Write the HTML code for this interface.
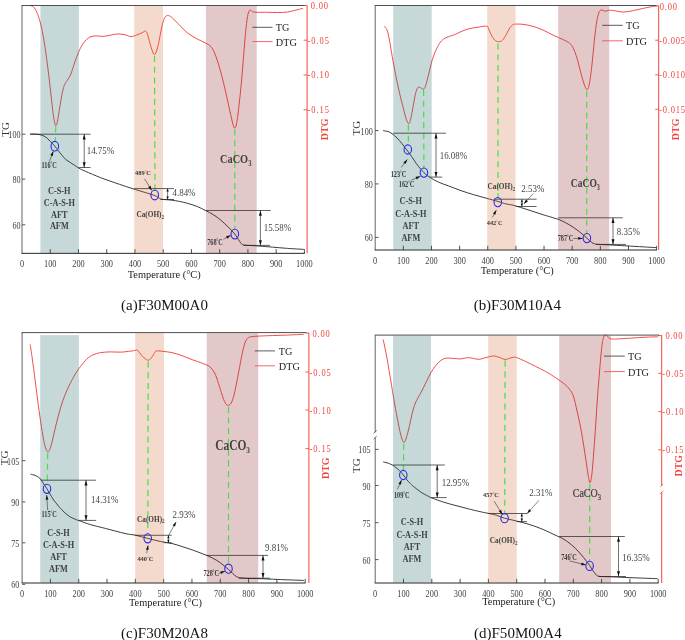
<!DOCTYPE html>
<html lang="en">
<head>
<meta charset="utf-8">
<title>TG-DTG curves</title>
<style>
html,body{margin:0;padding:0;background:#fff;}
body{width:685px;height:640px;overflow:hidden;}
svg{display:block;font-family:"Liberation Serif","Noto Serif CJK SC",serif;}
</style>
</head>
<body>
<svg width="685" height="640" viewBox="0 0 685 640">
<rect x="0" y="0" width="685" height="640" fill="#ffffff"/>
<path d="M29.63 5.52C30.05 5.61 31.22 5.44 32.14 6.03C33.06 6.61 34.15 7.45 35.15 9.04C36.16 10.63 37.2 12.89 38.17 15.57C39.13 18.25 39.97 21.01 40.93 25.11C41.89 29.21 42.9 33.9 43.94 40.18C44.99 46.45 46.16 54.82 47.21 62.77C48.25 70.73 49.3 79.93 50.22 87.88C51.14 95.83 52.02 104.83 52.73 110.48C53.44 116.13 53.99 119.27 54.49 121.78C54.99 124.29 55.28 125.46 55.74 125.55C56.2 125.63 56.66 124.79 57.25 122.28C57.84 119.77 58.51 114.96 59.26 110.48C60.01 106 60.93 99.6 61.77 95.42C62.61 91.23 63.36 87.88 64.28 85.37C65.2 82.86 66.21 82.23 67.29 80.35C68.38 78.47 69.6 77 70.81 74.07C72.02 71.14 73.32 66.33 74.58 62.77C75.83 59.22 77.04 55.74 78.34 52.73C79.64 49.72 80.98 46.91 82.36 44.69C83.74 42.48 85.2 40.76 86.63 39.42C88.05 38.08 89.22 37.25 90.9 36.66C92.57 36.07 94.66 35.95 96.67 35.91C98.68 35.86 100.65 36.53 102.95 36.41C105.25 36.28 107.97 35.57 110.48 35.15C112.99 34.73 115.5 33.94 118.01 33.9C120.53 33.86 123.37 34.44 125.55 34.9C127.72 35.36 129.19 36.66 131.07 36.66C132.95 36.66 135.05 35.53 136.85 34.9C138.65 34.27 140.49 33.52 141.87 32.89C143.25 32.27 144.25 31.09 145.13 31.14C146.01 31.18 146.47 31.64 147.14 33.14C147.81 34.65 148.4 37.54 149.15 40.18C149.9 42.81 150.78 46.54 151.66 48.96C152.54 51.39 153.5 54.74 154.42 54.74C155.34 54.74 156.31 51.81 157.19 48.96C158.06 46.12 158.86 41.64 159.7 37.66C160.53 33.69 161.37 28.46 162.21 25.11C163.04 21.76 163.88 19.17 164.72 17.58C165.56 15.99 166.39 15.82 167.23 15.57C168.07 15.32 168.95 15.74 169.74 16.07C170.54 16.4 170.37 16.07 172 17.58C173.63 19.08 177.02 22.6 179.53 25.11C182.04 27.62 184.14 30.34 187.07 32.64C190 34.94 193.97 37.16 197.11 38.92C200.25 40.68 203.6 41.89 205.9 43.19C208.2 44.49 209.45 45.03 210.92 46.7C212.38 48.38 213.22 49.63 214.69 53.23C216.15 56.83 218.03 62.52 219.71 68.3C221.38 74.07 223.06 80.85 224.73 87.88C226.4 94.91 228.41 104.54 229.75 110.48C231.09 116.42 231.93 120.61 232.76 123.54C233.6 126.47 234.1 128.23 234.77 128.06C235.44 127.89 236.03 126.72 236.78 122.53C237.54 118.35 238.46 110.4 239.29 102.95C240.13 95.5 241.01 86.63 241.8 77.84C242.6 69.05 243.35 58.59 244.06 50.22C244.78 41.85 245.4 33.69 246.07 27.62C246.74 21.55 247.37 16.74 248.08 13.81C248.79 10.88 249.55 10.38 250.34 10.04C251.14 9.71 251.68 11.42 252.85 11.8C254.02 12.18 254.95 12.22 257.37 12.3C259.8 12.39 264.07 12.26 267.42 12.3C270.76 12.35 274.11 12.6 277.46 12.55C280.81 12.51 284.57 12.43 287.5 12.05C290.43 11.68 292.44 10.92 295.04 10.29C297.63 9.67 301.73 8.62 303.07 8.29" fill="none" stroke="#f0453f" stroke-width="0.95" stroke-linejoin="round"/>
<path d="M30.13 134.08C31.18 134.11 34.53 134.04 36.41 134.21C38.29 134.38 39.76 134.52 41.43 135.09C43.1 135.65 44.78 136.34 46.45 137.6C48.13 138.86 50.09 141.2 51.47 142.62C52.86 144.04 53.61 144.8 54.74 146.14C55.87 147.48 57 149.07 58.25 150.66C59.51 152.25 61.02 154.21 62.27 155.68C63.53 157.15 64.45 158.36 65.79 159.5C67.13 160.64 68.84 161.55 70.31 162.51C71.77 163.47 73.11 164.31 74.58 165.27C76.04 166.24 77.3 167.28 79.09 168.29C80.89 169.29 81.82 169.75 85.37 171.3C88.93 172.85 95.83 175.78 100.44 177.58C105.04 179.38 108.81 180.63 112.99 182.1C117.18 183.56 121.78 185.11 125.55 186.36C129.31 187.62 132.24 188.58 135.59 189.63C138.94 190.68 142.41 191.64 145.64 192.64C148.86 193.65 152.41 194.61 154.93 195.66C157.44 196.7 158.9 198.25 160.7 198.92C162.5 199.59 163.84 199.46 165.72 199.67C167.61 199.88 169.7 199.88 172 200.18C174.3 200.47 177.02 200.93 179.53 201.43C182.04 201.93 184.14 202.35 187.07 203.19C190 204.03 193.97 205.2 197.11 206.45C200.25 207.71 203.18 209.34 205.9 210.72C208.62 212.1 210.92 213.15 213.43 214.74C215.94 216.33 218.45 218.17 220.96 220.26C223.47 222.36 226.19 224.99 228.5 227.29C230.8 229.6 232.97 231.81 234.77 234.07C236.57 236.33 238.12 239.18 239.29 240.85C240.47 242.53 240.88 243.41 241.8 244.12C242.73 244.83 243.06 244.87 244.82 245.12C246.58 245.37 249.84 245.46 252.35 245.62C254.86 245.79 256.54 245.87 259.88 246.13C263.23 246.38 267.83 246.75 272.44 247.13C277.04 247.51 282.27 248.01 287.5 248.39C292.73 248.76 301.1 249.22 303.82 249.39" fill="none" stroke="#262626" stroke-width="0.9" stroke-linejoin="round"/>
<line x1="50.24" y1="253.35" x2="50.24" y2="249.15" stroke="#3a3a3a" stroke-width="0.9" />
<line x1="78.48" y1="253.35" x2="78.48" y2="249.15" stroke="#3a3a3a" stroke-width="0.9" />
<line x1="106.72" y1="253.35" x2="106.72" y2="249.15" stroke="#3a3a3a" stroke-width="0.9" />
<line x1="134.96" y1="253.35" x2="134.96" y2="249.15" stroke="#3a3a3a" stroke-width="0.9" />
<line x1="163.2" y1="253.35" x2="163.2" y2="249.15" stroke="#3a3a3a" stroke-width="0.9" />
<line x1="191.44" y1="253.35" x2="191.44" y2="249.15" stroke="#3a3a3a" stroke-width="0.9" />
<line x1="219.68" y1="253.35" x2="219.68" y2="249.15" stroke="#3a3a3a" stroke-width="0.9" />
<line x1="247.92" y1="253.35" x2="247.92" y2="249.15" stroke="#3a3a3a" stroke-width="0.9" />
<line x1="276.16" y1="253.35" x2="276.16" y2="249.15" stroke="#3a3a3a" stroke-width="0.9" />
<line x1="304.4" y1="253.35" x2="304.4" y2="249.15" stroke="#3a3a3a" stroke-width="0.9" />
<line x1="22" y1="134.2" x2="25.3" y2="134.2" stroke="#3a3a3a" stroke-width="0.85" />
<line x1="22" y1="179.1" x2="25.3" y2="179.1" stroke="#3a3a3a" stroke-width="0.85" />
<line x1="22" y1="224.8" x2="25.3" y2="224.8" stroke="#3a3a3a" stroke-width="0.85" />
<line x1="303.6" y1="5.5" x2="307.1" y2="5.5" stroke="#f0453f" stroke-width="0.85" />
<line x1="303.6" y1="40.2" x2="307.1" y2="40.2" stroke="#f0453f" stroke-width="0.85" />
<line x1="303.6" y1="74.9" x2="307.1" y2="74.9" stroke="#f0453f" stroke-width="0.85" />
<line x1="303.6" y1="109.8" x2="307.1" y2="109.8" stroke="#f0453f" stroke-width="0.85" />
<rect x="40.4" y="6" width="38.5" height="246.95" fill="rgba(27,103,99,0.25)"/>
<rect x="134.2" y="6" width="28.8" height="246.95" fill="rgba(207,107,55,0.25)"/>
<rect x="205.9" y="6" width="50.8" height="246.95" fill="rgba(143,35,43,0.25)"/>
<line x1="55.8" y1="126.5" x2="55.2" y2="142" stroke="#44e044" stroke-width="1.2" stroke-dasharray="6.1 4.6"/>
<line x1="154.5" y1="56" x2="155" y2="191" stroke="#44e044" stroke-width="1.2" stroke-dasharray="6.1 4.6"/>
<line x1="234.8" y1="129.5" x2="234.8" y2="229" stroke="#44e044" stroke-width="1.2" stroke-dasharray="6.1 4.6"/>
<line x1="22" y1="5.5" x2="22" y2="253.35" stroke="#484848" stroke-width="0.85" />
<line x1="21.6" y1="5.5" x2="304.6" y2="5.5" stroke="#3a3a3a" stroke-width="0.9" />
<line x1="21.5" y1="253.35" x2="304.8" y2="253.35" stroke="#262626" stroke-width="1" />
<line x1="307.1" y1="5.5" x2="307.1" y2="253.35" stroke="#f0453f" stroke-width="1" />
<text x="0" y="0" font-size="9.9" fill="#424242" text-anchor="middle" transform="translate(22 267) scale(0.84 1)" >0</text>
<text x="0" y="0" font-size="9.9" fill="#424242" text-anchor="middle" transform="translate(50.24 267) scale(0.84 1)" >100</text>
<text x="0" y="0" font-size="9.9" fill="#424242" text-anchor="middle" transform="translate(78.48 267) scale(0.84 1)" >200</text>
<text x="0" y="0" font-size="9.9" fill="#424242" text-anchor="middle" transform="translate(106.72 267) scale(0.84 1)" >300</text>
<text x="0" y="0" font-size="9.9" fill="#424242" text-anchor="middle" transform="translate(134.96 267) scale(0.84 1)" >400</text>
<text x="0" y="0" font-size="9.9" fill="#424242" text-anchor="middle" transform="translate(163.2 267) scale(0.84 1)" >500</text>
<text x="0" y="0" font-size="9.9" fill="#424242" text-anchor="middle" transform="translate(191.44 267) scale(0.84 1)" >600</text>
<text x="0" y="0" font-size="9.9" fill="#424242" text-anchor="middle" transform="translate(219.68 267) scale(0.84 1)" >700</text>
<text x="0" y="0" font-size="9.9" fill="#424242" text-anchor="middle" transform="translate(247.92 267) scale(0.84 1)" >800</text>
<text x="0" y="0" font-size="9.9" fill="#424242" text-anchor="middle" transform="translate(276.16 267) scale(0.84 1)" >900</text>
<text x="0" y="0" font-size="9.9" fill="#424242" text-anchor="middle" transform="translate(304.4 267) scale(0.84 1)" >1000</text>
<text x="0" y="0" font-size="11.2" fill="#1c1c1c" text-anchor="middle" transform="translate(164.2 278.1) scale(0.93 1)" >Temperature (°C)</text>
<text x="0" y="0" font-size="9.9" fill="#424242" text-anchor="end" transform="translate(20.5 138.2) scale(0.82 1)" >100</text>
<text x="0" y="0" font-size="9.9" fill="#424242" text-anchor="end" transform="translate(20.5 183.1) scale(0.82 1)" >80</text>
<text x="0" y="0" font-size="9.9" fill="#424242" text-anchor="end" transform="translate(20.5 228.8) scale(0.82 1)" >60</text>
<text x="0" y="0" font-size="11" fill="#333" text-anchor="middle" transform="translate(9.3 129.3) rotate(-90)" >TG</text>
<text x="0" y="0" font-size="9.4" fill="#f0453f" text-anchor="start" transform="translate(310.8 9) scale(0.9 1)" textLength="19.02" lengthAdjust="spacing" >0.00</text>
<text x="0" y="0" font-size="9.4" fill="#f0453f" text-anchor="start" transform="translate(307.6 43.7) scale(0.9 1)" textLength="23.78" lengthAdjust="spacing" >-0.05</text>
<text x="0" y="0" font-size="9.4" fill="#f0453f" text-anchor="start" transform="translate(307.6 78.4) scale(0.9 1)" textLength="23.78" lengthAdjust="spacing" >-0.10</text>
<text x="0" y="0" font-size="9.4" fill="#f0453f" text-anchor="start" transform="translate(307.6 113.3) scale(0.9 1)" textLength="23.78" lengthAdjust="spacing" >-0.15</text>
<text x="0" y="0" font-size="10" fill="#f0453f" text-anchor="middle" transform="translate(328 129.4) rotate(-90)" font-weight="bold" >DTG</text>
<line x1="252.4" y1="27.3" x2="272.5" y2="27.3" stroke="#333" stroke-width="0.8" />
<line x1="252.4" y1="41.6" x2="272.5" y2="41.6" stroke="#f0453f" stroke-width="0.8" />
<text x="0" y="0" font-size="11" fill="#222" text-anchor="start" transform="translate(275.8 31.3) scale(0.93 1)" >TG</text>
<text x="0" y="0" font-size="11" fill="#222" text-anchor="start" transform="translate(275.8 45.8) scale(0.93 1)" >DTG</text>
<text x="0" y="0" font-size="9.4" fill="#424242" text-anchor="middle" transform="translate(59.3 194.2) scale(0.88 1)" font-weight="bold" >C-S-H</text>
<text x="0" y="0" font-size="9.4" fill="#424242" text-anchor="middle" transform="translate(59.3 206) scale(0.88 1)" font-weight="bold" >C-A-S-H</text>
<text x="0" y="0" font-size="9.4" fill="#424242" text-anchor="middle" transform="translate(59.3 217.6) scale(0.88 1)" font-weight="bold" >AFT</text>
<text x="0" y="0" font-size="9.4" fill="#424242" text-anchor="middle" transform="translate(59.3 229) scale(0.88 1)" font-weight="bold" >AFM</text>
<line x1="30.2" y1="134.2" x2="90.5" y2="134.2" stroke="#1e1e1e" stroke-width="0.7" />
<line x1="79" y1="167.5" x2="90.5" y2="167.5" stroke="#1e1e1e" stroke-width="0.7" />
<line x1="134.2" y1="188.6" x2="174" y2="188.6" stroke="#1e1e1e" stroke-width="0.7" />
<line x1="160.4" y1="199.5" x2="174" y2="199.5" stroke="#1e1e1e" stroke-width="0.7" />
<line x1="205.9" y1="210.5" x2="270.7" y2="210.5" stroke="#1e1e1e" stroke-width="0.7" />
<line x1="243.6" y1="245.4" x2="270" y2="245.4" stroke="#1e1e1e" stroke-width="0.7" />
<line x1="84.2" y1="134.2" x2="84.2" y2="167.5" stroke="#111" stroke-width="0.6" />
<polygon points="84.2,167.5 82.7,162.3 85.7,162.3" fill="#111"/>
<polygon points="84.2,134.2 85.7,139.4 82.7,139.4" fill="#111"/>
<line x1="167.6" y1="188.6" x2="167.6" y2="199.5" stroke="#111" stroke-width="0.55" />
<polygon points="167.6,199.5 166.45,196.5 168.75,196.5" fill="#111"/>
<polygon points="167.6,188.6 168.75,191.6 166.45,191.6" fill="#111"/>
<line x1="260.4" y1="210.5" x2="260.4" y2="245.4" stroke="#111" stroke-width="0.6" />
<polygon points="260.4,245.4 258.9,240.2 261.9,240.2" fill="#111"/>
<polygon points="260.4,210.5 261.9,215.7 258.9,215.7" fill="#111"/>
<line x1="49.3" y1="161.6" x2="53.3" y2="151.3" stroke="#111" stroke-width="0.5" />
<polygon points="53.3,151.3 52.94,156.09 50.33,155.08" fill="#111"/>
<line x1="144.5" y1="178.8" x2="151.8" y2="190.5" stroke="#111" stroke-width="0.5" />
<polygon points="151.8,190.5 148.18,187.34 150.55,185.86" fill="#111"/>
<line x1="223.5" y1="239.2" x2="230.8" y2="235.3" stroke="#111" stroke-width="0.5" />
<polygon points="230.8,235.3 227.4,238.7 226.08,236.23" fill="#111"/>
<ellipse cx="54.8" cy="146.2" rx="3.8" ry="4.8" fill="none" stroke="#2b2be6" stroke-width="1.1"/>
<ellipse cx="154.7" cy="195.1" rx="3.8" ry="4.8" fill="none" stroke="#2b2be6" stroke-width="1.1"/>
<ellipse cx="234.8" cy="234.1" rx="3.8" ry="4.9" fill="none" stroke="#2b2be6" stroke-width="1.1"/>
<text x="0" y="0" font-size="10.5" fill="#444" text-anchor="start" transform="translate(86.7 154.2) scale(0.85 1)" >14.75%</text>
<text x="0" y="0" font-size="10.5" fill="#444" text-anchor="start" transform="translate(172.5 196.2) scale(0.85 1)" >4.84%</text>
<text x="0" y="0" font-size="10.5" fill="#444" text-anchor="start" transform="translate(263.7 231.3) scale(0.85 1)" >15.58%</text>
<text x="0" y="0" font-size="7.8" fill="#3a3a3a" text-anchor="start" transform="translate(41.5 168.1) scale(0.8 1)" font-weight="bold" >116<tspan font-size="5.23" dy="-1.87">°</tspan><tspan dy="1.87">C</tspan></text>
<text x="0" y="0" font-size="6.7" fill="#3a3a3a" text-anchor="start" transform="translate(135 174.73) scale(0.96 1)" font-weight="bold" >489<tspan font-size="4.49" dy="-1.61">°</tspan><tspan dy="1.61">C</tspan></text>
<text x="0" y="0" font-size="7.8" fill="#3a3a3a" text-anchor="start" transform="translate(207.2 245) scale(0.8 1)" font-weight="bold" >768<tspan font-size="5.23" dy="-1.87">°</tspan><tspan dy="1.87">C</tspan></text>
<text x="0" y="0" font-size="8.2" fill="#424242" text-anchor="start" transform="translate(136.4 217.4) scale(0.89 1)" font-weight="bold" >Ca(OH)<tspan font-size="5.8" dy="1.9">2</tspan></text>
<text x="0" y="0" font-size="12.48" fill="#424242" text-anchor="start" transform="translate(220 162.62) scale(0.83 1)" font-weight="bold" >CaCO<tspan font-size="8.11" dy="3.12">3</tspan></text>
<text x="164.5" y="309.7" font-size="15" fill="#151515" text-anchor="middle" textLength="86.8" lengthAdjust="spacing" >(a)F30M00A0</text>
<path d="M383.93 26.36C384.22 26.57 385.06 26.66 385.69 27.62C386.31 28.58 387.03 29.84 387.69 32.14C388.36 34.44 388.95 37.37 389.7 41.43C390.46 45.49 391.21 50.85 392.21 56.5C393.22 62.15 394.52 69.26 395.73 75.33C396.94 81.4 398.24 87.46 399.5 92.91C400.75 98.35 402.13 103.58 403.26 107.97C404.39 112.36 405.36 116.63 406.28 119.27C407.2 121.91 408.03 123.92 408.79 123.79C409.54 123.66 410.04 121.57 410.8 118.52C411.55 115.46 412.51 109.64 413.31 105.46C414.1 101.27 414.85 96.34 415.57 93.41C416.28 90.48 416.91 88.93 417.58 87.88C418.24 86.84 418.91 87.05 419.58 87.13C420.25 87.21 420.96 88.05 421.59 88.39C422.22 88.72 422.72 89.43 423.35 89.14C423.98 88.85 424.52 88.93 425.36 86.63C426.2 84.33 427.24 79.72 428.37 75.33C429.5 70.93 430.88 64.45 432.14 60.26C433.39 56.08 434.65 53.06 435.91 50.22C437.16 47.37 438.42 45.03 439.67 43.19C440.93 41.35 441.97 40.26 443.44 39.17C444.9 38.08 446.58 37.41 448.46 36.66C450.34 35.91 452.64 35.49 454.74 34.65C456.83 33.81 458.71 32.6 461.01 31.64C463.32 30.68 465.62 29.63 468.55 28.88C471.48 28.12 475.58 27.58 478.59 27.12C481.6 26.66 484.95 25.82 486.63 26.11C488.3 26.41 487.88 27.45 488.64 28.88C489.39 30.3 490.1 32.77 491.15 34.65C492.19 36.53 493.66 39 494.91 40.18C496.17 41.35 497.42 41.68 498.68 41.68C499.93 41.68 501.19 41.35 502.45 40.18C503.7 39 504.96 36.74 506.21 34.65C507.47 32.56 508.81 29.29 509.98 27.62C511.15 25.95 512.32 25.19 513.24 24.61C514.16 24.02 513.88 24.15 515.51 24.11C517.14 24.06 520.11 23.98 523.04 24.36C525.97 24.73 529.74 25.4 533.09 26.36C536.44 27.33 539.78 28.67 543.13 30.13C546.48 31.6 549.83 33.56 553.18 35.15C556.52 36.74 560.5 38.33 563.22 39.67C565.94 41.01 567.82 41.77 569.5 43.19C571.17 44.61 572.01 45.7 573.26 48.21C574.52 50.72 575.77 54.15 577.03 58.25C578.28 62.36 579.54 68.3 580.8 72.82C582.05 77.34 583.52 82.57 584.56 85.37C585.61 88.18 586.28 89.85 587.07 89.64C587.87 89.43 588.54 88.09 589.33 84.12C590.13 80.14 591.01 73.03 591.84 65.79C592.68 58.55 593.52 48.21 594.35 40.68C595.19 33.14 596.03 25.44 596.87 20.59C597.7 15.74 598.5 13.31 599.38 11.55C600.26 9.79 601.13 10.09 602.14 10.04C603.14 10 604.36 11.26 605.4 11.3C606.45 11.34 607.08 10.42 608.42 10.29C609.76 10.17 610.93 10.25 613.44 10.55C615.95 10.84 620.13 12.05 623.48 12.05C626.83 12.05 630.18 11.17 633.53 10.55C636.87 9.92 640.22 9 643.57 8.29C646.92 7.57 651.31 6.74 653.61 6.28C655.91 5.82 656.75 5.65 657.38 5.52" fill="none" stroke="#f0453f" stroke-width="0.95" stroke-linejoin="round"/>
<path d="M383.18 130.57C384.22 130.82 387.57 131.24 389.45 132.08C391.34 132.91 392.8 134.17 394.47 135.59C396.15 137.01 397.82 138.73 399.5 140.61C401.17 142.5 403.14 145.13 404.52 146.89C405.9 148.65 406.65 149.61 407.78 151.16C408.91 152.71 410.13 154.5 411.3 156.18C412.47 157.86 413.64 159.57 414.81 161.26C415.98 162.94 416.82 164.39 418.33 166.28C419.84 168.16 421.97 170.73 423.85 172.55C425.74 174.38 427.2 175.61 429.63 177.2C432.05 178.79 435.28 180.65 438.42 182.1C441.55 183.54 444.69 184.44 448.46 185.86C452.23 187.29 456.83 189.17 461.01 190.63C465.2 192.1 469.38 193.4 473.57 194.65C477.75 195.91 482.06 197.04 486.12 198.17C490.18 199.3 494.58 200.47 497.93 201.43C501.27 202.39 503.7 203.31 506.21 203.94C508.72 204.57 510.19 204.49 513 205.2C515.81 205.91 519.7 207.16 523.04 208.21C526.39 209.26 529.74 210.39 533.09 211.47C536.44 212.56 539.78 213.69 543.13 214.74C546.48 215.78 550.45 216.91 553.18 217.75C555.9 218.59 557.36 218.92 559.45 219.76C561.55 220.6 563.43 221.52 565.73 222.77C568.03 224.03 570.75 225.62 573.26 227.29C575.77 228.97 578.49 230.98 580.8 232.82C583.1 234.66 585.32 236.79 587.07 238.34C588.83 239.89 590.09 241.19 591.34 242.11C592.6 243.03 593.43 243.49 594.61 243.87C595.78 244.24 596.07 244.2 598.37 244.37C600.67 244.54 603.81 244.62 608.42 244.87C613.02 245.12 620.13 245.54 625.99 245.87C631.85 246.21 638.55 246.59 643.57 246.88C648.59 247.17 654.03 247.51 656.12 247.63" fill="none" stroke="#262626" stroke-width="0.9" stroke-linejoin="round"/>
<line x1="403.34" y1="250" x2="403.34" y2="245.8" stroke="#3a3a3a" stroke-width="0.9" />
<line x1="431.48" y1="250" x2="431.48" y2="245.8" stroke="#3a3a3a" stroke-width="0.9" />
<line x1="459.62" y1="250" x2="459.62" y2="245.8" stroke="#3a3a3a" stroke-width="0.9" />
<line x1="487.76" y1="250" x2="487.76" y2="245.8" stroke="#3a3a3a" stroke-width="0.9" />
<line x1="515.9" y1="250" x2="515.9" y2="245.8" stroke="#3a3a3a" stroke-width="0.9" />
<line x1="544.04" y1="250" x2="544.04" y2="245.8" stroke="#3a3a3a" stroke-width="0.9" />
<line x1="572.18" y1="250" x2="572.18" y2="245.8" stroke="#3a3a3a" stroke-width="0.9" />
<line x1="600.32" y1="250" x2="600.32" y2="245.8" stroke="#3a3a3a" stroke-width="0.9" />
<line x1="628.46" y1="250" x2="628.46" y2="245.8" stroke="#3a3a3a" stroke-width="0.9" />
<line x1="656.6" y1="250" x2="656.6" y2="245.8" stroke="#3a3a3a" stroke-width="0.9" />
<line x1="375.2" y1="130.6" x2="378.5" y2="130.6" stroke="#3a3a3a" stroke-width="0.85" />
<line x1="375.2" y1="183.9" x2="378.5" y2="183.9" stroke="#3a3a3a" stroke-width="0.85" />
<line x1="375.2" y1="237.4" x2="378.5" y2="237.4" stroke="#3a3a3a" stroke-width="0.85" />
<line x1="655.2" y1="6" x2="658.7" y2="6" stroke="#f0453f" stroke-width="0.85" />
<line x1="655.2" y1="40.2" x2="658.7" y2="40.2" stroke="#f0453f" stroke-width="0.85" />
<line x1="655.2" y1="74.9" x2="658.7" y2="74.9" stroke="#f0453f" stroke-width="0.85" />
<line x1="655.2" y1="109.3" x2="658.7" y2="109.3" stroke="#f0453f" stroke-width="0.85" />
<rect x="393.2" y="6" width="38.5" height="243.6" fill="rgba(27,103,99,0.25)"/>
<rect x="487.2" y="6" width="28.4" height="243.6" fill="rgba(207,107,55,0.25)"/>
<rect x="558.2" y="6" width="51" height="243.6" fill="rgba(143,35,43,0.25)"/>
<line x1="408.4" y1="125" x2="408.4" y2="145.3" stroke="#44e044" stroke-width="1.2" stroke-dasharray="6.1 4.6"/>
<line x1="423.6" y1="90" x2="423.9" y2="168.5" stroke="#44e044" stroke-width="1.2" stroke-dasharray="6.1 4.6"/>
<line x1="498" y1="43.5" x2="498" y2="198" stroke="#44e044" stroke-width="1.2" stroke-dasharray="6.1 4.6"/>
<line x1="586.7" y1="91" x2="586.7" y2="233.7" stroke="#44e044" stroke-width="1.2" stroke-dasharray="6.1 4.6"/>
<line x1="375.2" y1="5.5" x2="375.2" y2="250" stroke="#484848" stroke-width="0.85" />
<line x1="374.8" y1="5.5" x2="656.2" y2="5.5" stroke="#3a3a3a" stroke-width="0.9" />
<line x1="374.7" y1="250" x2="657" y2="250" stroke="#262626" stroke-width="1" />
<line x1="658.7" y1="5.5" x2="658.7" y2="250" stroke="#f0453f" stroke-width="1" />
<text x="0" y="0" font-size="9.9" fill="#424242" text-anchor="middle" transform="translate(375.2 264.2) scale(0.84 1)" >0</text>
<text x="0" y="0" font-size="9.9" fill="#424242" text-anchor="middle" transform="translate(403.34 264.2) scale(0.84 1)" >100</text>
<text x="0" y="0" font-size="9.9" fill="#424242" text-anchor="middle" transform="translate(431.48 264.2) scale(0.84 1)" >200</text>
<text x="0" y="0" font-size="9.9" fill="#424242" text-anchor="middle" transform="translate(459.62 264.2) scale(0.84 1)" >300</text>
<text x="0" y="0" font-size="9.9" fill="#424242" text-anchor="middle" transform="translate(487.76 264.2) scale(0.84 1)" >400</text>
<text x="0" y="0" font-size="9.9" fill="#424242" text-anchor="middle" transform="translate(515.9 264.2) scale(0.84 1)" >500</text>
<text x="0" y="0" font-size="9.9" fill="#424242" text-anchor="middle" transform="translate(544.04 264.2) scale(0.84 1)" >600</text>
<text x="0" y="0" font-size="9.9" fill="#424242" text-anchor="middle" transform="translate(572.18 264.2) scale(0.84 1)" >700</text>
<text x="0" y="0" font-size="9.9" fill="#424242" text-anchor="middle" transform="translate(600.32 264.2) scale(0.84 1)" >800</text>
<text x="0" y="0" font-size="9.9" fill="#424242" text-anchor="middle" transform="translate(628.46 264.2) scale(0.84 1)" >900</text>
<text x="0" y="0" font-size="9.9" fill="#424242" text-anchor="middle" transform="translate(656.6 264.2) scale(0.84 1)" >1000</text>
<text x="0" y="0" font-size="11.2" fill="#1c1c1c" text-anchor="middle" transform="translate(517.2 274.3) scale(0.93 1)" >Temperature (°C)</text>
<text x="0" y="0" font-size="9.9" fill="#424242" text-anchor="end" transform="translate(372.8 134.6) scale(0.82 1)" >100</text>
<text x="0" y="0" font-size="9.9" fill="#424242" text-anchor="end" transform="translate(372.8 187.9) scale(0.82 1)" >80</text>
<text x="0" y="0" font-size="9.9" fill="#424242" text-anchor="end" transform="translate(372.8 241.4) scale(0.82 1)" >60</text>
<text x="0" y="0" font-size="11" fill="#333" text-anchor="middle" transform="translate(359.7 128.1) rotate(-90)" >TG</text>
<text x="0" y="0" font-size="9.4" fill="#f0453f" text-anchor="start" transform="translate(659.8 9.5) scale(0.9 1)" textLength="19.02" lengthAdjust="spacing" >0.00</text>
<text x="0" y="0" font-size="9.4" fill="#f0453f" text-anchor="start" transform="translate(659.2 43.7) scale(0.9 1)" textLength="28.53" lengthAdjust="spacing" >-0.005</text>
<text x="0" y="0" font-size="9.4" fill="#f0453f" text-anchor="start" transform="translate(659.2 78.4) scale(0.9 1)" textLength="28.53" lengthAdjust="spacing" >-0.010</text>
<text x="0" y="0" font-size="9.4" fill="#f0453f" text-anchor="start" transform="translate(659.2 112.8) scale(0.9 1)" textLength="28.53" lengthAdjust="spacing" >-0.015</text>
<text x="0" y="0" font-size="10" fill="#f0453f" text-anchor="middle" transform="translate(679.3 129.4) rotate(-90)" font-weight="bold" >DTG</text>
<line x1="602.2" y1="25.3" x2="622.8" y2="25.3" stroke="#333" stroke-width="0.8" />
<line x1="602.2" y1="40.8" x2="622.8" y2="40.8" stroke="#f0453f" stroke-width="0.8" />
<text x="0" y="0" font-size="11" fill="#222" text-anchor="start" transform="translate(626 29.3) scale(0.93 1)" >TG</text>
<text x="0" y="0" font-size="11" fill="#222" text-anchor="start" transform="translate(626 45) scale(0.93 1)" >DTG</text>
<text x="0" y="0" font-size="9.4" fill="#424242" text-anchor="middle" transform="translate(410.8 204.2) scale(0.88 1)" font-weight="bold" >C-S-H</text>
<text x="0" y="0" font-size="9.4" fill="#424242" text-anchor="middle" transform="translate(410.8 216.8) scale(0.88 1)" font-weight="bold" >C-A-S-H</text>
<text x="0" y="0" font-size="9.4" fill="#424242" text-anchor="middle" transform="translate(410.8 229.1) scale(0.88 1)" font-weight="bold" >AFT</text>
<text x="0" y="0" font-size="9.4" fill="#424242" text-anchor="middle" transform="translate(410.8 241.4) scale(0.88 1)" font-weight="bold" >AFM</text>
<line x1="393.2" y1="133.2" x2="446" y2="133.2" stroke="#1e1e1e" stroke-width="0.7" />
<line x1="429.7" y1="177.1" x2="442.2" y2="177.1" stroke="#1e1e1e" stroke-width="0.7" />
<line x1="493.9" y1="199.2" x2="536.6" y2="199.2" stroke="#1e1e1e" stroke-width="0.7" />
<line x1="515.8" y1="206.5" x2="536.6" y2="206.5" stroke="#1e1e1e" stroke-width="0.7" />
<line x1="558.2" y1="217.8" x2="622.8" y2="217.8" stroke="#1e1e1e" stroke-width="0.7" />
<line x1="596" y1="244.4" x2="626" y2="244.4" stroke="#1e1e1e" stroke-width="0.7" />
<line x1="436" y1="133.2" x2="436" y2="177.1" stroke="#111" stroke-width="0.6" />
<polygon points="436,177.1 434.5,171.9 437.5,171.9" fill="#111"/>
<polygon points="436,133.2 437.5,138.4 434.5,138.4" fill="#111"/>
<line x1="521.9" y1="199.2" x2="521.9" y2="206.5" stroke="#111" stroke-width="0.55" />
<polygon points="521.9,206.5 520.75,203.5 523.05,203.5" fill="#111"/>
<polygon points="521.9,199.2 523.05,202.2 520.75,202.2" fill="#111"/>
<line x1="613" y1="217.8" x2="613" y2="244.4" stroke="#111" stroke-width="0.6" />
<polygon points="613,244.4 611.5,239.2 614.5,239.2" fill="#111"/>
<polygon points="613,217.8 614.5,223 611.5,223" fill="#111"/>
<line x1="401.2" y1="167.4" x2="407.3" y2="159.5" stroke="#111" stroke-width="0.5" />
<polygon points="407.3,159.5 405.6,164 403.38,162.29" fill="#111"/>
<line x1="411.4" y1="180.1" x2="420.4" y2="176.3" stroke="#111" stroke-width="0.5" />
<polygon points="420.4,176.3 416.71,179.38 415.62,176.8" fill="#111"/>
<line x1="492.4" y1="217.4" x2="496.4" y2="210.1" stroke="#111" stroke-width="0.5" />
<polygon points="496.4,210.1 495.42,214.81 492.96,213.46" fill="#111"/>
<line x1="573.3" y1="238.4" x2="582.8" y2="238.4" stroke="#111" stroke-width="0.5" />
<polygon points="582.8,238.4 578.2,239.8 578.2,237" fill="#111"/>
<line x1="533.3" y1="193.4" x2="523.8" y2="203.9" stroke="#111" stroke-width="0.5" />
<polygon points="523.8,203.9 525.85,199.55 527.92,201.43" fill="#111"/>
<ellipse cx="407.8" cy="149.5" rx="3.75" ry="4.6" fill="none" stroke="#2b2be6" stroke-width="1.1"/>
<ellipse cx="423.9" cy="172.6" rx="3.75" ry="4.6" fill="none" stroke="#2b2be6" stroke-width="1.1"/>
<ellipse cx="497.8" cy="202.1" rx="3.75" ry="4.6" fill="none" stroke="#2b2be6" stroke-width="1.1"/>
<ellipse cx="586.9" cy="238.1" rx="3.75" ry="4.6" fill="none" stroke="#2b2be6" stroke-width="1.1"/>
<text x="0" y="0" font-size="10.5" fill="#444" text-anchor="start" transform="translate(439.7 159.3) scale(0.85 1)" >16.08%</text>
<text x="0" y="0" font-size="10.5" fill="#444" text-anchor="start" transform="translate(521.3 192.4) scale(0.85 1)" >2.53%</text>
<text x="0" y="0" font-size="10.5" fill="#444" text-anchor="start" transform="translate(616.8 235.1) scale(0.85 1)" >8.35%</text>
<text x="0" y="0" font-size="7.8" fill="#3a3a3a" text-anchor="start" transform="translate(390.7 177.2) scale(0.8 1)" font-weight="bold" >123<tspan font-size="5.23" dy="-1.87">°</tspan><tspan dy="1.87">C</tspan></text>
<text x="0" y="0" font-size="7.8" fill="#3a3a3a" text-anchor="start" transform="translate(398.8 187.2) scale(0.8 1)" font-weight="bold" >162<tspan font-size="5.23" dy="-1.87">°</tspan><tspan dy="1.87">C</tspan></text>
<text x="0" y="0" font-size="6.7" fill="#3a3a3a" text-anchor="start" transform="translate(486.7 224.53) scale(0.96 1)" font-weight="bold" >442<tspan font-size="4.49" dy="-1.61">°</tspan><tspan dy="1.61">C</tspan></text>
<text x="0" y="0" font-size="7.8" fill="#3a3a3a" text-anchor="start" transform="translate(557.7 240.5) scale(0.8 1)" font-weight="bold" >787<tspan font-size="5.23" dy="-1.87">°</tspan><tspan dy="1.87">C</tspan></text>
<text x="0" y="0" font-size="8.2" fill="#424242" text-anchor="start" transform="translate(487.5 189) scale(0.89 1)" font-weight="bold" >Ca(OH)<tspan font-size="5.8" dy="1.9">2</tspan></text>
<text x="0" y="0" font-size="11.52" fill="#424242" text-anchor="start" transform="translate(570.8 187.2) scale(0.83 1)" font-weight="bold" >CaCO<tspan font-size="7.49" dy="2.88">3</tspan></text>
<text x="517.3" y="309.7" font-size="15" fill="#151515" text-anchor="middle" textLength="87.3" lengthAdjust="spacing" >(b)F30M10A4</text>
<path d="M30.13 344.36C30.47 346.57 31.3 351.68 32.14 357.66C32.98 363.65 34.15 372.52 35.15 380.26C36.16 388 37.12 396.37 38.17 404.12C39.21 411.86 40.38 420.1 41.43 426.72C42.48 433.33 43.4 439.6 44.44 443.79C45.49 447.97 46.66 451.32 47.71 451.82C48.75 452.33 49.67 449.86 50.72 446.8C51.77 443.75 52.81 438.31 53.99 433.49C55.16 428.68 56.29 423.37 57.75 417.93C59.22 412.49 60.89 406.21 62.77 400.85C64.66 395.5 66.96 390.26 69.05 385.79C71.14 381.31 73.45 377.17 75.33 373.99C77.21 370.8 78.47 369.17 80.35 366.7C82.23 364.23 84.54 361.14 86.63 359.17C88.72 357.2 90.6 355.99 92.91 354.9C95.21 353.81 97.51 353.14 100.44 352.64C103.37 352.14 107.13 351.97 110.48 351.89C113.83 351.81 117.18 352.27 120.53 352.14C123.87 352.01 128.14 351.43 130.57 351.14C133 350.84 134 350.59 135.09 350.38C136.18 350.17 136.43 349.59 137.1 349.88C137.77 350.17 138.31 351.18 139.11 352.14C139.9 353.1 140.86 354.57 141.87 355.66C142.87 356.74 144.09 357.92 145.13 358.67C146.18 359.42 147.14 360.26 148.15 360.18C149.15 360.09 150.24 359.13 151.16 358.17C152.08 357.2 152.87 355.57 153.67 354.4C154.47 353.23 154.76 351.68 155.93 351.14C157.1 350.59 158.02 350.88 160.7 351.14C163.38 351.39 168.44 351.89 172 352.64C175.56 353.4 178.7 354.48 182.04 355.66C185.39 356.83 188.74 358.42 192.09 359.67C195.44 360.93 199.2 362.02 202.13 363.19C205.06 364.36 207.57 365.03 209.66 366.7C211.76 368.38 213.22 370.47 214.69 373.23C216.15 375.99 217.2 379.59 218.45 383.28C219.71 386.96 221.09 392.06 222.22 395.33C223.35 398.59 224.19 401.19 225.23 402.86C226.28 404.54 227.41 405.54 228.5 405.37C229.58 405.2 230.71 404.12 231.76 401.86C232.81 399.6 233.64 396.67 234.77 391.81C235.9 386.96 237.28 379.17 238.54 372.73C239.8 366.29 241.18 358.29 242.31 353.14C243.44 348 244.27 344.44 245.32 341.85C246.37 339.25 246.99 338.5 248.58 337.58C250.17 336.66 250.89 336.66 254.86 336.32C258.84 335.99 267 335.78 272.44 335.57C277.88 335.36 282.27 335.27 287.5 335.07C292.73 334.86 301.1 334.44 303.82 334.31" fill="none" stroke="#f0453f" stroke-width="0.95" stroke-linejoin="round"/>
<path d="M30.5 474.1C31.28 474.33 33.68 474.85 35.2 475.5C36.72 476.15 38.27 476.73 39.6 478C40.93 479.27 41.98 481.32 43.2 483.1C44.42 484.88 45.68 486.75 46.9 488.7C48.12 490.65 49.28 492.8 50.5 494.8C51.72 496.8 52.37 498.27 54.2 500.7C56.03 503.13 59.07 506.85 61.5 509.4C63.93 511.95 66.37 514.3 68.8 516C71.23 517.7 74.52 518.87 76.1 519.6C77.68 520.33 75.87 519.55 78.3 520.4C80.73 521.25 86.2 523.37 90.7 524.7C95.2 526.03 99.58 526.93 105.3 528.4C111.02 529.87 119.95 532.36 125 533.5C130.05 534.64 131.73 534.41 135.59 535.24C139.45 536.08 143.96 537.46 148.15 538.51C152.33 539.55 156.73 540.68 160.7 541.52C164.68 542.36 168.44 542.69 172 543.53C175.56 544.36 178.7 545.49 182.04 546.54C185.39 547.59 188.74 548.63 192.09 549.8C195.44 550.98 198.78 552.23 202.13 553.57C205.48 554.91 209.25 556.37 212.18 557.84C215.1 559.3 217.41 560.77 219.71 562.36C222.01 563.95 224.1 565.83 225.99 567.38C227.87 568.93 229.54 570.31 231.01 571.65C232.47 572.99 233.64 574.5 234.77 575.42C235.9 576.34 236.74 576.76 237.79 577.17C238.83 577.59 239.46 577.72 241.05 577.93C242.64 578.14 244.19 578.3 247.33 578.43C250.47 578.55 254.86 578.51 259.88 578.68C264.91 578.85 270.14 579.14 277.46 579.43C284.78 579.73 299.43 580.27 303.82 580.44" fill="none" stroke="#262626" stroke-width="0.9" stroke-linejoin="round"/>
<line x1="50.41" y1="583" x2="50.41" y2="578.8" stroke="#3a3a3a" stroke-width="0.9" />
<line x1="78.72" y1="583" x2="78.72" y2="578.8" stroke="#3a3a3a" stroke-width="0.9" />
<line x1="107.03" y1="583" x2="107.03" y2="578.8" stroke="#3a3a3a" stroke-width="0.9" />
<line x1="135.34" y1="583" x2="135.34" y2="578.8" stroke="#3a3a3a" stroke-width="0.9" />
<line x1="163.65" y1="583" x2="163.65" y2="578.8" stroke="#3a3a3a" stroke-width="0.9" />
<line x1="191.96" y1="583" x2="191.96" y2="578.8" stroke="#3a3a3a" stroke-width="0.9" />
<line x1="220.27" y1="583" x2="220.27" y2="578.8" stroke="#3a3a3a" stroke-width="0.9" />
<line x1="248.58" y1="583" x2="248.58" y2="578.8" stroke="#3a3a3a" stroke-width="0.9" />
<line x1="276.89" y1="583" x2="276.89" y2="578.8" stroke="#3a3a3a" stroke-width="0.9" />
<line x1="305.2" y1="583" x2="305.2" y2="578.8" stroke="#3a3a3a" stroke-width="0.9" />
<line x1="22.1" y1="460.7" x2="25.4" y2="460.7" stroke="#3a3a3a" stroke-width="0.85" />
<line x1="22.1" y1="501.9" x2="25.4" y2="501.9" stroke="#3a3a3a" stroke-width="0.85" />
<line x1="22.1" y1="542.8" x2="25.4" y2="542.8" stroke="#3a3a3a" stroke-width="0.85" />
<line x1="22.1" y1="584.3" x2="25.4" y2="584.3" stroke="#3a3a3a" stroke-width="0.85" />
<line x1="305.4" y1="333.1" x2="308.9" y2="333.1" stroke="#f0453f" stroke-width="0.85" />
<line x1="305.4" y1="372" x2="308.9" y2="372" stroke="#f0453f" stroke-width="0.85" />
<line x1="305.4" y1="410" x2="308.9" y2="410" stroke="#f0453f" stroke-width="0.85" />
<line x1="305.4" y1="448.6" x2="308.9" y2="448.6" stroke="#f0453f" stroke-width="0.85" />
<rect x="40.2" y="335.1" width="38.7" height="247.5" fill="rgba(27,103,99,0.25)"/>
<rect x="135.2" y="333.1" width="28.8" height="249.5" fill="rgba(207,107,55,0.25)"/>
<rect x="206.7" y="333.1" width="51.5" height="249.5" fill="rgba(143,35,43,0.25)"/>
<line x1="47.7" y1="453" x2="47.2" y2="484.5" stroke="#44e044" stroke-width="1.2" stroke-dasharray="6.1 4.6"/>
<line x1="148.2" y1="361.5" x2="147.8" y2="534.3" stroke="#44e044" stroke-width="1.2" stroke-dasharray="6.1 4.6"/>
<line x1="228.5" y1="406.8" x2="228.5" y2="564.3" stroke="#44e044" stroke-width="1.2" stroke-dasharray="6.1 4.6"/>
<line x1="22.1" y1="332.6" x2="22.1" y2="583" stroke="#484848" stroke-width="0.85" />
<line x1="21.7" y1="332.6" x2="306.4" y2="332.6" stroke="#3a3a3a" stroke-width="0.9" />
<line x1="21.6" y1="583" x2="305.6" y2="583" stroke="#262626" stroke-width="1" />
<line x1="308.9" y1="332.6" x2="308.9" y2="583" stroke="#f0453f" stroke-width="1" />
<text x="0" y="0" font-size="9.9" fill="#424242" text-anchor="middle" transform="translate(22.1 597.1) scale(0.84 1)" >0</text>
<text x="0" y="0" font-size="9.9" fill="#424242" text-anchor="middle" transform="translate(50.41 597.1) scale(0.84 1)" >100</text>
<text x="0" y="0" font-size="9.9" fill="#424242" text-anchor="middle" transform="translate(78.72 597.1) scale(0.84 1)" >200</text>
<text x="0" y="0" font-size="9.9" fill="#424242" text-anchor="middle" transform="translate(107.03 597.1) scale(0.84 1)" >300</text>
<text x="0" y="0" font-size="9.9" fill="#424242" text-anchor="middle" transform="translate(135.34 597.1) scale(0.84 1)" >400</text>
<text x="0" y="0" font-size="9.9" fill="#424242" text-anchor="middle" transform="translate(163.65 597.1) scale(0.84 1)" >500</text>
<text x="0" y="0" font-size="9.9" fill="#424242" text-anchor="middle" transform="translate(191.96 597.1) scale(0.84 1)" >600</text>
<text x="0" y="0" font-size="9.9" fill="#424242" text-anchor="middle" transform="translate(220.27 597.1) scale(0.84 1)" >700</text>
<text x="0" y="0" font-size="9.9" fill="#424242" text-anchor="middle" transform="translate(248.58 597.1) scale(0.84 1)" >800</text>
<text x="0" y="0" font-size="9.9" fill="#424242" text-anchor="middle" transform="translate(276.89 597.1) scale(0.84 1)" >900</text>
<text x="0" y="0" font-size="9.9" fill="#424242" text-anchor="middle" transform="translate(305.2 597.1) scale(0.84 1)" >1000</text>
<text x="0" y="0" font-size="11.2" fill="#1c1c1c" text-anchor="middle" transform="translate(165.5 606.1) scale(0.93 1)" >Temperature (°C)</text>
<text x="0" y="0" font-size="9.9" fill="#424242" text-anchor="end" transform="translate(19.3 464.7) scale(0.82 1)" >105</text>
<text x="0" y="0" font-size="9.9" fill="#424242" text-anchor="end" transform="translate(19.3 505.9) scale(0.82 1)" >90</text>
<text x="0" y="0" font-size="9.9" fill="#424242" text-anchor="end" transform="translate(19.3 546.8) scale(0.82 1)" >75</text>
<text x="0" y="0" font-size="9.9" fill="#424242" text-anchor="end" transform="translate(19.3 588.3) scale(0.82 1)" >60</text>
<text x="0" y="0" font-size="11" fill="#333" text-anchor="middle" transform="translate(7.5 457.9) rotate(-90)" >TG</text>
<text x="0" y="0" font-size="9.4" fill="#f0453f" text-anchor="start" transform="translate(312.6 336.6) scale(0.9 1)" textLength="19.02" lengthAdjust="spacing" >0.00</text>
<text x="0" y="0" font-size="9.4" fill="#f0453f" text-anchor="start" transform="translate(309.4 375.5) scale(0.9 1)" textLength="23.78" lengthAdjust="spacing" >-0.05</text>
<text x="0" y="0" font-size="9.4" fill="#f0453f" text-anchor="start" transform="translate(309.4 413.5) scale(0.9 1)" textLength="23.78" lengthAdjust="spacing" >-0.10</text>
<text x="0" y="0" font-size="9.4" fill="#f0453f" text-anchor="start" transform="translate(309.4 452.1) scale(0.9 1)" textLength="23.78" lengthAdjust="spacing" >-0.15</text>
<text x="0" y="0" font-size="10" fill="#f0453f" text-anchor="middle" transform="translate(329 468.2) rotate(-90)" font-weight="bold" >DTG</text>
<line x1="254.9" y1="350.9" x2="275" y2="350.9" stroke="#333" stroke-width="0.8" />
<line x1="254.9" y1="365.8" x2="275" y2="365.8" stroke="#f0453f" stroke-width="0.8" />
<text x="0" y="0" font-size="11" fill="#222" text-anchor="start" transform="translate(278.8 354.9) scale(0.93 1)" >TG</text>
<text x="0" y="0" font-size="11" fill="#222" text-anchor="start" transform="translate(278.8 370) scale(0.93 1)" >DTG</text>
<text x="0" y="0" font-size="9.4" fill="#424242" text-anchor="middle" transform="translate(58.5 536) scale(0.88 1)" font-weight="bold" >C-S-H</text>
<text x="0" y="0" font-size="9.4" fill="#424242" text-anchor="middle" transform="translate(58.5 548) scale(0.88 1)" font-weight="bold" >C-A-S-H</text>
<text x="0" y="0" font-size="9.4" fill="#424242" text-anchor="middle" transform="translate(58.5 560.3) scale(0.88 1)" font-weight="bold" >AFT</text>
<text x="0" y="0" font-size="9.4" fill="#424242" text-anchor="middle" transform="translate(58.5 572.4) scale(0.88 1)" font-weight="bold" >AFM</text>
<line x1="40.8" y1="480.2" x2="96.1" y2="480.2" stroke="#1e1e1e" stroke-width="0.7" />
<line x1="78.4" y1="520.4" x2="96.1" y2="520.4" stroke="#1e1e1e" stroke-width="0.7" />
<line x1="134.9" y1="535.3" x2="171.7" y2="535.3" stroke="#1e1e1e" stroke-width="0.7" />
<line x1="163.7" y1="542.7" x2="171.7" y2="542.7" stroke="#1e1e1e" stroke-width="0.7" />
<line x1="206.7" y1="555.4" x2="268" y2="555.4" stroke="#1e1e1e" stroke-width="0.7" />
<line x1="238.6" y1="578.2" x2="270" y2="578.2" stroke="#1e1e1e" stroke-width="0.7" />
<line x1="86" y1="480.2" x2="86" y2="520.4" stroke="#111" stroke-width="0.6" />
<polygon points="86,520.4 84.5,515.2 87.5,515.2" fill="#111"/>
<polygon points="86,480.2 87.5,485.4 84.5,485.4" fill="#111"/>
<line x1="168.4" y1="535.3" x2="168.4" y2="542.7" stroke="#111" stroke-width="0.55" />
<polygon points="168.4,542.7 167.25,539.7 169.55,539.7" fill="#111"/>
<polygon points="168.4,535.3 169.55,538.3 167.25,538.3" fill="#111"/>
<line x1="263" y1="555.4" x2="263" y2="578.2" stroke="#111" stroke-width="0.6" />
<polygon points="263,578.2 261.5,573 264.5,573" fill="#111"/>
<polygon points="263,555.4 264.5,560.6 261.5,560.6" fill="#111"/>
<line x1="47.7" y1="510.2" x2="46.7" y2="495" stroke="#111" stroke-width="0.5" />
<polygon points="46.7,495 48.4,499.5 45.6,499.68" fill="#111"/>
<line x1="146.6" y1="553.3" x2="148.1" y2="545.3" stroke="#111" stroke-width="0.5" />
<polygon points="148.1,545.3 148.63,550.08 145.88,549.56" fill="#111"/>
<line x1="218.5" y1="573.7" x2="225" y2="571.1" stroke="#111" stroke-width="0.5" />
<polygon points="225,571.1 221.25,574.11 220.21,571.51" fill="#111"/>
<line x1="168.8" y1="535" x2="176.1" y2="521.9" stroke="#111" stroke-width="0.5" />
<polygon points="176.1,521.9 175.08,526.6 172.64,525.24" fill="#111"/>
<ellipse cx="47" cy="488.8" rx="3.75" ry="4.6" fill="none" stroke="#2b2be6" stroke-width="1.1"/>
<ellipse cx="147.7" cy="538.3" rx="3.75" ry="4.6" fill="none" stroke="#2b2be6" stroke-width="1.1"/>
<ellipse cx="228.5" cy="568.7" rx="3.75" ry="4.6" fill="none" stroke="#2b2be6" stroke-width="1.1"/>
<text x="0" y="0" font-size="10.5" fill="#444" text-anchor="start" transform="translate(91 503.1) scale(0.85 1)" >14.31%</text>
<text x="0" y="0" font-size="10.5" fill="#444" text-anchor="start" transform="translate(172.5 517.5) scale(0.85 1)" >2.93%</text>
<text x="0" y="0" font-size="10.5" fill="#444" text-anchor="start" transform="translate(265 550.6) scale(0.85 1)" >9.81%</text>
<text x="0" y="0" font-size="7.8" fill="#3a3a3a" text-anchor="start" transform="translate(41.5 517) scale(0.8 1)" font-weight="bold" >115<tspan font-size="5.23" dy="-1.87">°</tspan><tspan dy="1.87">C</tspan></text>
<text x="0" y="0" font-size="6.7" fill="#3a3a3a" text-anchor="start" transform="translate(137.4 560.83) scale(0.96 1)" font-weight="bold" >440<tspan font-size="4.49" dy="-1.61">°</tspan><tspan dy="1.61">C</tspan></text>
<text x="0" y="0" font-size="7.8" fill="#3a3a3a" text-anchor="start" transform="translate(203.4 576.3) scale(0.8 1)" font-weight="bold" >728<tspan font-size="5.23" dy="-1.87">°</tspan><tspan dy="1.87">C</tspan></text>
<text x="0" y="0" font-size="8.2" fill="#424242" text-anchor="start" transform="translate(137 521.5) scale(0.89 1)" font-weight="bold" >Ca(OH)<tspan font-size="5.8" dy="1.9">2</tspan></text>
<text x="0" y="0" font-size="13.8" fill="#424242" text-anchor="start" transform="translate(215.2 449.65) scale(0.83 1)" font-weight="bold" >CaCO<tspan font-size="8.97" dy="3.45">3</tspan></text>
<text x="164.5" y="637.7" font-size="15" fill="#151515" text-anchor="middle" textLength="86.8" lengthAdjust="spacing" >(c)F30M20A8</text>
<path d="M383.18 339.59C383.51 341.13 384.43 345.11 385.18 348.88C385.94 352.64 386.77 356.95 387.69 362.18C388.62 367.42 389.58 373.48 390.71 380.26C391.84 387.04 393.22 395.75 394.47 402.86C395.73 409.98 397.11 417.3 398.24 422.95C399.37 428.6 400.33 433.54 401.25 436.76C402.17 439.98 402.93 442.07 403.76 442.28C404.6 442.49 405.31 440.82 406.28 438.01C407.24 435.21 408.45 429.98 409.54 425.46C410.63 420.94 411.67 415 412.8 410.9C413.93 406.8 414.98 403.87 416.32 400.85C417.66 397.84 419.25 395.83 420.84 392.82C422.43 389.8 424.19 386.12 425.86 382.77C427.54 379.43 429.21 375.62 430.88 372.73C432.56 369.84 434.23 367.5 435.91 365.45C437.58 363.4 439.25 361.64 440.93 360.43C442.6 359.21 443.86 358.5 445.95 358.17C448.04 357.83 450.97 358.29 453.48 358.42C455.99 358.54 458.71 359.05 461.01 358.92C463.32 358.79 465.41 357.79 467.29 357.66C469.18 357.54 470.43 357.87 472.31 358.17C474.2 358.46 476.71 359.42 478.59 359.42C480.47 359.42 481.94 358.58 483.61 358.17C485.29 357.75 486.96 357.29 488.64 356.91C490.31 356.53 491.98 355.86 493.66 355.91C495.33 355.95 496.8 356.58 498.68 357.16C500.56 357.75 503.07 359.25 504.96 359.42C506.84 359.59 508.51 358.54 509.98 358.17C511.44 357.79 512.61 357.25 513.74 357.16C514.88 357.08 514.8 356.95 516.77 357.66C518.73 358.38 522.42 359.97 525.55 361.43C528.69 362.9 532.25 364.78 535.6 366.45C538.95 368.13 542.29 369.59 545.64 371.47C548.99 373.36 552.55 375.66 555.69 377.75C558.82 379.84 562.17 382.1 564.47 384.03C566.78 385.95 568.03 387.34 569.5 389.3C570.96 391.27 572.01 392.23 573.26 395.83C574.52 399.43 575.77 405.46 577.03 410.9C578.28 416.34 579.54 421.78 580.8 428.47C582.05 435.17 583.39 443.62 584.56 451.07C585.73 458.52 587.07 468.31 587.83 473.17C588.58 478.02 588.71 478.61 589.08 480.2C589.46 481.79 589.75 482.88 590.09 482.71C590.42 482.54 590.71 481.37 591.09 479.19C591.47 477.02 591.76 476.1 592.35 469.65C592.93 463.21 593.81 451.66 594.61 440.53C595.4 429.39 596.28 414.58 597.12 402.86C597.95 391.14 598.83 379.64 599.63 370.22C600.42 360.8 601.22 351.89 601.89 346.36C602.56 340.84 603.06 339.04 603.65 337.07C604.23 335.11 604.78 334.73 605.4 334.56C606.03 334.4 606.7 335.4 607.41 336.07C608.12 336.74 608.67 338.08 609.67 338.58C610.68 339.08 611.97 339.04 613.44 339.08C614.9 339.13 615.95 338.96 618.46 338.83C620.97 338.71 625.16 338.54 628.5 338.33C631.85 338.12 635.2 337.79 638.55 337.58C641.9 337.37 645.33 337.2 648.59 337.07C651.86 336.95 656.54 336.87 658.13 336.82" fill="none" stroke="#f0453f" stroke-width="0.95" stroke-linejoin="round"/>
<path d="M383.18 461.87C384.22 462.16 387.57 462.87 389.45 463.63C391.34 464.38 392.8 465.22 394.47 466.39C396.15 467.56 398.03 469.23 399.5 470.66C400.96 472.08 402.01 473.38 403.26 474.93C404.52 476.47 405.86 478.52 407.03 479.95C408.2 481.38 409.25 482.46 410.29 483.52C411.34 484.57 411.55 484.85 413.31 486.28C415.06 487.7 418.33 490.38 420.84 492.05C423.35 493.73 426.49 495.32 428.37 496.32C430.26 497.33 429.63 497.12 432.14 498.08C434.65 499.04 439.46 500.84 443.44 502.1C447.41 503.35 451.81 504.48 455.99 505.61C460.18 506.74 464.36 507.83 468.55 508.88C472.73 509.92 477.75 511.14 481.1 511.89C484.45 512.64 486.12 512.85 488.64 513.4C491.15 513.94 493.53 514.36 496.17 515.15C498.8 515.95 501.65 517.33 504.45 518.17C507.26 519 509.9 519.42 513 520.18C516.1 520.93 519.7 521.77 523.04 522.69C526.39 523.61 529.74 524.57 533.09 525.7C536.44 526.83 539.48 527.92 543.13 529.47C546.78 531.02 551.32 533.23 555 535C558.68 536.77 561.82 537.88 565.2 540.1C568.58 542.32 572.25 545.42 575.3 548.3C578.35 551.18 581.12 554.53 583.5 557.4C585.88 560.27 587.92 563.13 589.6 565.5C591.28 567.87 592.42 569.97 593.6 571.6C594.78 573.23 595.68 574.5 596.7 575.3C597.72 576.1 598.17 576.17 599.7 576.4C601.23 576.63 603.62 576.58 605.91 576.67C608.19 576.76 609.25 576.76 613.44 576.92C617.62 577.09 623.69 577.38 631.01 577.68C638.34 577.97 652.99 578.51 657.38 578.68" fill="none" stroke="#262626" stroke-width="0.9" stroke-linejoin="round"/>
<line x1="403.5" y1="583" x2="403.5" y2="578.8" stroke="#3a3a3a" stroke-width="0.9" />
<line x1="431.8" y1="583" x2="431.8" y2="578.8" stroke="#3a3a3a" stroke-width="0.9" />
<line x1="460.1" y1="583" x2="460.1" y2="578.8" stroke="#3a3a3a" stroke-width="0.9" />
<line x1="488.4" y1="583" x2="488.4" y2="578.8" stroke="#3a3a3a" stroke-width="0.9" />
<line x1="516.7" y1="583" x2="516.7" y2="578.8" stroke="#3a3a3a" stroke-width="0.9" />
<line x1="545" y1="583" x2="545" y2="578.8" stroke="#3a3a3a" stroke-width="0.9" />
<line x1="573.3" y1="583" x2="573.3" y2="578.8" stroke="#3a3a3a" stroke-width="0.9" />
<line x1="601.6" y1="583" x2="601.6" y2="578.8" stroke="#3a3a3a" stroke-width="0.9" />
<line x1="629.9" y1="583" x2="629.9" y2="578.8" stroke="#3a3a3a" stroke-width="0.9" />
<line x1="658.2" y1="583" x2="658.2" y2="578.8" stroke="#3a3a3a" stroke-width="0.9" />
<line x1="375.2" y1="449.4" x2="378.5" y2="449.4" stroke="#3a3a3a" stroke-width="0.85" />
<line x1="375.2" y1="485.5" x2="378.5" y2="485.5" stroke="#3a3a3a" stroke-width="0.85" />
<line x1="375.2" y1="522.7" x2="378.5" y2="522.7" stroke="#3a3a3a" stroke-width="0.85" />
<line x1="375.2" y1="559.6" x2="378.5" y2="559.6" stroke="#3a3a3a" stroke-width="0.85" />
<line x1="658.2" y1="335.6" x2="661.7" y2="335.6" stroke="#f0453f" stroke-width="0.85" />
<line x1="658.2" y1="373.3" x2="661.7" y2="373.3" stroke="#f0453f" stroke-width="0.85" />
<line x1="658.2" y1="411.7" x2="661.7" y2="411.7" stroke="#f0453f" stroke-width="0.85" />
<line x1="658.2" y1="449.9" x2="661.7" y2="449.9" stroke="#f0453f" stroke-width="0.85" />
<rect x="393" y="335.6" width="38" height="247" fill="rgba(27,103,99,0.25)"/>
<rect x="488.2" y="335.6" width="28.6" height="247" fill="rgba(207,107,55,0.25)"/>
<rect x="559.2" y="335.6" width="51.8" height="247" fill="rgba(143,35,43,0.25)"/>
<line x1="403.8" y1="443.6" x2="403.4" y2="470.8" stroke="#44e044" stroke-width="1.2" stroke-dasharray="6.1 4.6"/>
<line x1="505.1" y1="360.6" x2="504.7" y2="514.2" stroke="#44e044" stroke-width="1.2" stroke-dasharray="6.1 4.6"/>
<line x1="589.8" y1="484" x2="589.6" y2="561.5" stroke="#44e044" stroke-width="1.2" stroke-dasharray="6.1 4.6"/>
<line x1="375.2" y1="335.1" x2="375.2" y2="432.2" stroke="#484848" stroke-width="0.85" />
<line x1="375.2" y1="437.4" x2="375.2" y2="583" stroke="#484848" stroke-width="0.85" />
<line x1="373.6" y1="433.4" x2="376.8" y2="430.4" stroke="#3a3a3a" stroke-width="0.7" />
<line x1="373.6" y1="439" x2="376.8" y2="436" stroke="#3a3a3a" stroke-width="0.7" />
<line x1="374.8" y1="335.1" x2="659.2" y2="335.1" stroke="#3a3a3a" stroke-width="0.9" />
<line x1="374.7" y1="583" x2="658.6" y2="583" stroke="#262626" stroke-width="1" />
<line x1="661.7" y1="335.1" x2="661.7" y2="485.8" stroke="#f0453f" stroke-width="1" />
<line x1="661.7" y1="492.2" x2="661.7" y2="583" stroke="#f0453f" stroke-width="1" />
<line x1="660.1" y1="487" x2="663.3" y2="484" stroke="#f0453f" stroke-width="0.7" />
<line x1="660.1" y1="493.8" x2="663.3" y2="490.8" stroke="#f0453f" stroke-width="0.7" />
<text x="0" y="0" font-size="9.9" fill="#424242" text-anchor="middle" transform="translate(375.2 597.1) scale(0.84 1)" >0</text>
<text x="0" y="0" font-size="9.9" fill="#424242" text-anchor="middle" transform="translate(403.5 597.1) scale(0.84 1)" >100</text>
<text x="0" y="0" font-size="9.9" fill="#424242" text-anchor="middle" transform="translate(431.8 597.1) scale(0.84 1)" >200</text>
<text x="0" y="0" font-size="9.9" fill="#424242" text-anchor="middle" transform="translate(460.1 597.1) scale(0.84 1)" >300</text>
<text x="0" y="0" font-size="9.9" fill="#424242" text-anchor="middle" transform="translate(488.4 597.1) scale(0.84 1)" >400</text>
<text x="0" y="0" font-size="9.9" fill="#424242" text-anchor="middle" transform="translate(516.7 597.1) scale(0.84 1)" >500</text>
<text x="0" y="0" font-size="9.9" fill="#424242" text-anchor="middle" transform="translate(545 597.1) scale(0.84 1)" >600</text>
<text x="0" y="0" font-size="9.9" fill="#424242" text-anchor="middle" transform="translate(573.3 597.1) scale(0.84 1)" >700</text>
<text x="0" y="0" font-size="9.9" fill="#424242" text-anchor="middle" transform="translate(601.6 597.1) scale(0.84 1)" >800</text>
<text x="0" y="0" font-size="9.9" fill="#424242" text-anchor="middle" transform="translate(629.9 597.1) scale(0.84 1)" >900</text>
<text x="0" y="0" font-size="9.9" fill="#424242" text-anchor="middle" transform="translate(658.2 597.1) scale(0.84 1)" >1000</text>
<text x="0" y="0" font-size="11.2" fill="#1c1c1c" text-anchor="middle" transform="translate(518.7 604.6) scale(0.93 1)" >Temperature (°C)</text>
<text x="0" y="0" font-size="9.9" fill="#424242" text-anchor="end" transform="translate(370.5 453.4) scale(0.82 1)" >105</text>
<text x="0" y="0" font-size="9.9" fill="#424242" text-anchor="end" transform="translate(370.5 489.5) scale(0.82 1)" >90</text>
<text x="0" y="0" font-size="9.9" fill="#424242" text-anchor="end" transform="translate(370.5 526.7) scale(0.82 1)" >75</text>
<text x="0" y="0" font-size="9.9" fill="#424242" text-anchor="end" transform="translate(370.5 563.6) scale(0.82 1)" >60</text>
<text x="0" y="0" font-size="11" fill="#333" text-anchor="middle" transform="translate(360.2 465.7) rotate(-90)" >TG</text>
<text x="0" y="0" font-size="9.4" fill="#f0453f" text-anchor="start" transform="translate(665.4 339.1) scale(0.9 1)" textLength="19.02" lengthAdjust="spacing" >0.00</text>
<text x="0" y="0" font-size="9.4" fill="#f0453f" text-anchor="start" transform="translate(662.2 376.8) scale(0.9 1)" textLength="23.78" lengthAdjust="spacing" >-0.05</text>
<text x="0" y="0" font-size="9.4" fill="#f0453f" text-anchor="start" transform="translate(662.2 415.2) scale(0.9 1)" textLength="23.78" lengthAdjust="spacing" >-0.10</text>
<text x="0" y="0" font-size="9.4" fill="#f0453f" text-anchor="start" transform="translate(662.2 453.4) scale(0.9 1)" textLength="23.78" lengthAdjust="spacing" >-0.15</text>
<text x="0" y="0" font-size="10" fill="#f0453f" text-anchor="middle" transform="translate(682 465.7) rotate(-90)" font-weight="bold" >DTG</text>
<line x1="604" y1="356.1" x2="624.8" y2="356.1" stroke="#333" stroke-width="0.8" />
<line x1="604" y1="371.6" x2="624.8" y2="371.6" stroke="#f0453f" stroke-width="0.8" />
<text x="0" y="0" font-size="11" fill="#222" text-anchor="start" transform="translate(628 360.1) scale(0.93 1)" >TG</text>
<text x="0" y="0" font-size="11" fill="#222" text-anchor="start" transform="translate(628 375.8) scale(0.93 1)" >DTG</text>
<text x="0" y="0" font-size="9.4" fill="#424242" text-anchor="middle" transform="translate(412 525.2) scale(0.88 1)" font-weight="bold" >C-S-H</text>
<text x="0" y="0" font-size="9.4" fill="#424242" text-anchor="middle" transform="translate(412 537.7) scale(0.88 1)" font-weight="bold" >C-A-S-H</text>
<text x="0" y="0" font-size="9.4" fill="#424242" text-anchor="middle" transform="translate(412 549.8) scale(0.88 1)" font-weight="bold" >AFT</text>
<text x="0" y="0" font-size="9.4" fill="#424242" text-anchor="middle" transform="translate(412 562.1) scale(0.88 1)" font-weight="bold" >AFM</text>
<line x1="393.2" y1="465" x2="444.8" y2="465" stroke="#1e1e1e" stroke-width="0.7" />
<line x1="431" y1="497.6" x2="446.8" y2="497.6" stroke="#1e1e1e" stroke-width="0.7" />
<line x1="488.2" y1="513.5" x2="527" y2="513.5" stroke="#1e1e1e" stroke-width="0.7" />
<line x1="516.7" y1="521.6" x2="527" y2="521.6" stroke="#1e1e1e" stroke-width="0.7" />
<line x1="559.2" y1="536.5" x2="624.8" y2="536.5" stroke="#1e1e1e" stroke-width="0.7" />
<line x1="598.4" y1="576.5" x2="626" y2="576.5" stroke="#1e1e1e" stroke-width="0.7" />
<line x1="437.2" y1="465" x2="437.2" y2="497.6" stroke="#111" stroke-width="0.6" />
<polygon points="437.2,497.6 435.7,492.4 438.7,492.4" fill="#111"/>
<polygon points="437.2,465 438.7,470.2 435.7,470.2" fill="#111"/>
<line x1="521.8" y1="513.5" x2="521.8" y2="521.6" stroke="#111" stroke-width="0.55" />
<polygon points="521.8,521.6 520.65,518.6 522.95,518.6" fill="#111"/>
<polygon points="521.8,513.5 522.95,516.5 520.65,516.5" fill="#111"/>
<line x1="618.5" y1="536.5" x2="618.5" y2="576.5" stroke="#111" stroke-width="0.6" />
<polygon points="618.5,576.5 617,571.3 620,571.3" fill="#111"/>
<polygon points="618.5,536.5 620,541.7 617,541.7" fill="#111"/>
<line x1="397.4" y1="489.2" x2="401.6" y2="479.9" stroke="#111" stroke-width="0.5" />
<polygon points="401.6,479.9 400.98,484.67 398.43,483.52" fill="#111"/>
<line x1="494.1" y1="501.2" x2="502.4" y2="514.4" stroke="#111" stroke-width="0.5" />
<polygon points="502.4,514.4 498.77,511.25 501.14,509.76" fill="#111"/>
<line x1="569.5" y1="560.9" x2="585.9" y2="564.9" stroke="#111" stroke-width="0.5" />
<polygon points="585.9,564.9 581.1,565.17 581.76,562.45" fill="#111"/>
<line x1="538.9" y1="500.4" x2="527.1" y2="513.6" stroke="#111" stroke-width="0.5" />
<polygon points="527.1,513.6 529.12,509.24 531.21,511.1" fill="#111"/>
<ellipse cx="403.3" cy="475" rx="3.75" ry="4.6" fill="none" stroke="#2b2be6" stroke-width="1.1"/>
<ellipse cx="504.6" cy="518.2" rx="3.75" ry="4.6" fill="none" stroke="#2b2be6" stroke-width="1.1"/>
<ellipse cx="589.6" cy="565.9" rx="3.75" ry="4.6" fill="none" stroke="#2b2be6" stroke-width="1.1"/>
<text x="0" y="0" font-size="10.5" fill="#444" text-anchor="start" transform="translate(441.7 486) scale(0.85 1)" >12.95%</text>
<text x="0" y="0" font-size="10.5" fill="#444" text-anchor="start" transform="translate(529.3 495.5) scale(0.85 1)" >2.31%</text>
<text x="0" y="0" font-size="10.5" fill="#444" text-anchor="start" transform="translate(622.3 560.9) scale(0.85 1)" >16.35%</text>
<text x="0" y="0" font-size="7.8" fill="#3a3a3a" text-anchor="start" transform="translate(394 497.6) scale(0.8 1)" font-weight="bold" >109<tspan font-size="5.23" dy="-1.87">°</tspan><tspan dy="1.87">C</tspan></text>
<text x="0" y="0" font-size="6.7" fill="#3a3a3a" text-anchor="start" transform="translate(483 496.83) scale(0.96 1)" font-weight="bold" >457<tspan font-size="4.49" dy="-1.61">°</tspan><tspan dy="1.61">C</tspan></text>
<text x="0" y="0" font-size="7.8" fill="#3a3a3a" text-anchor="start" transform="translate(561.2 560) scale(0.8 1)" font-weight="bold" >746<tspan font-size="5.23" dy="-1.87">°</tspan><tspan dy="1.87">C</tspan></text>
<text x="0" y="0" font-size="8.2" fill="#424242" text-anchor="start" transform="translate(489.8 543.2) scale(0.89 1)" font-weight="bold" >Ca(OH)<tspan font-size="5.8" dy="1.9">2</tspan></text>
<text x="0" y="0" font-size="12" fill="#424242" text-anchor="start" transform="translate(572.8 497.06) scale(0.83 1)" stroke="#424242" stroke-width="0.25">CaCO<tspan font-size="7.8" dy="3">3</tspan></text>
<text x="517.8" y="637.7" font-size="15" fill="#151515" text-anchor="middle" textLength="87.8" lengthAdjust="spacing" >(d)F50M00A4</text>
</svg>
</body>
</html>
